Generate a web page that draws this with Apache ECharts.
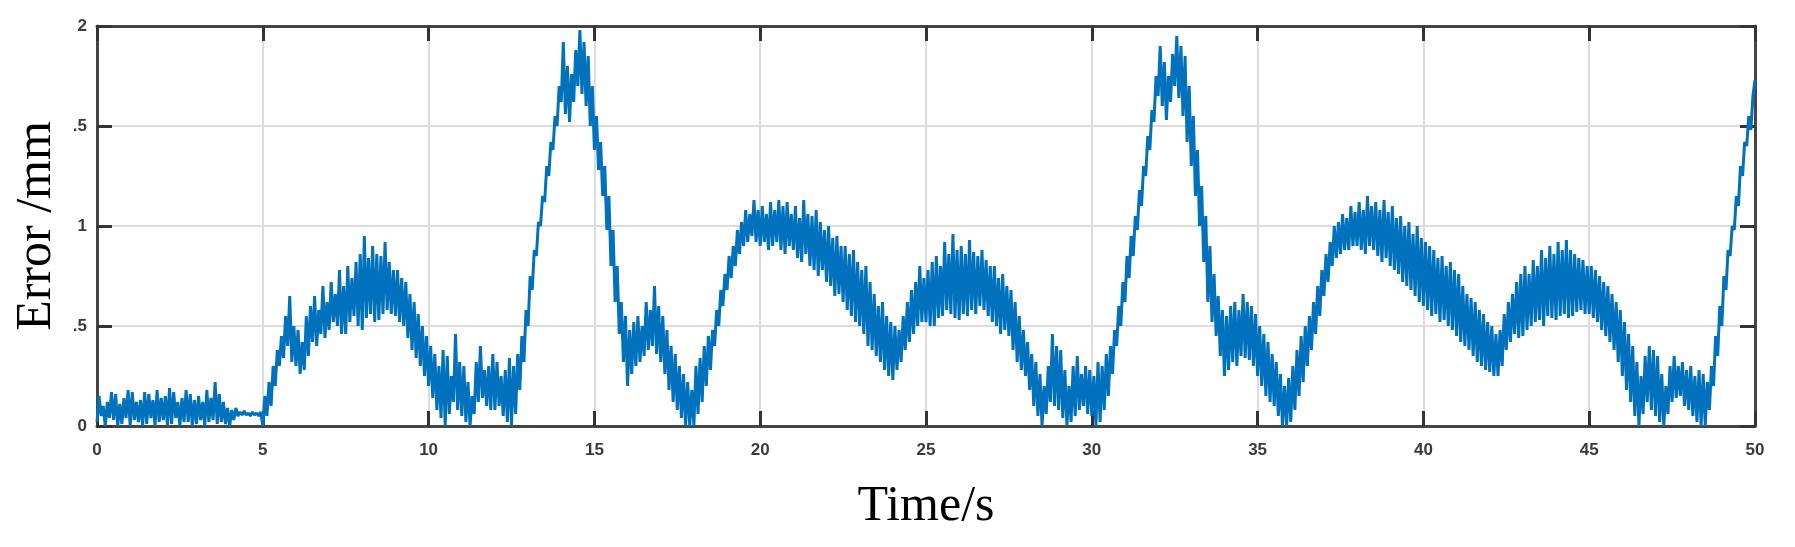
<!DOCTYPE html>
<html>
<head>
<meta charset="utf-8">
<script src="https://cdn.jsdelivr.net/npm/echarts@6/dist/echarts.min.js"></script>
<style>
html,body{margin:0;padding:0;background:#fff;}
#chart{width:1795px;height:547px;}
</style>
</head>
<body>
<div id="chart"></div>
<script>
// sample step of the envelopes (s)
var STEP = 0.125;
var xTicks = ['0','5','10','15','20','25','30','35','40','45','50'];
var yTickLabels = ['0', '.5', '1', '.5', '2'];

// upper envelope of the error band (mm), one value per 0.125 s, t = 0..50 (8 per row = 1 s)
var upperEnv = [
  0.15,0.10,0.12,0.17,0.16,0.11,0.14,0.18,
  0.17,0.12,0.13,0.17,0.16,0.13,0.18,0.14,
  0.15,0.19,0.17,0.12,0.14,0.18,0.16,0.13,
  0.15,0.12,0.18,0.14,0.22,0.16,0.12,0.09,
  0.08,0.09,0.07,0.075,0.065,0.07,0.065,0.07,
  0.15,0.22,0.30,0.38,0.45,0.55,0.65,0.50,
  0.48,0.42,0.55,0.60,0.65,0.58,0.70,0.62,
  0.72,0.66,0.78,0.70,0.80,0.74,0.82,0.86,
  0.95,0.84,0.90,0.86,0.85,0.92,0.82,0.78,
  0.78,0.74,0.72,0.66,0.62,0.56,0.50,0.45,
  0.40,0.36,0.30,0.38,0.35,0.25,0.46,0.32,
  0.30,0.22,0.15,0.32,0.40,0.28,0.30,0.36,
  0.32,0.25,0.28,0.34,0.30,0.36,0.45,0.58,
  0.75,0.88,1.02,1.15,1.30,1.42,1.55,1.70,
  1.92,1.80,1.76,1.88,1.98,1.92,1.85,1.70,
  1.55,1.42,1.30,1.15,0.98,0.80,0.62,0.55,
  0.48,0.52,0.55,0.50,0.62,0.58,0.70,0.60,
  0.55,0.48,0.40,0.36,0.30,0.26,0.22,0.18,
  0.30,0.34,0.40,0.45,0.48,0.58,0.68,0.76,
  0.85,0.90,0.98,1.02,1.08,1.06,1.13,1.08,
  1.10,1.06,1.12,1.08,1.13,1.10,1.12,1.06,
  1.10,1.04,1.13,1.06,1.05,1.08,1.02,0.98,
  1.00,0.94,0.95,0.90,0.90,0.86,0.88,0.82,
  0.78,0.80,0.72,0.66,0.60,0.62,0.55,0.52,
  0.50,0.48,0.55,0.62,0.68,0.72,0.80,0.74,
  0.78,0.82,0.85,0.80,0.92,0.86,0.96,0.88,
  0.90,0.86,0.93,0.87,0.85,0.88,0.83,0.80,
  0.80,0.74,0.76,0.70,0.68,0.62,0.55,0.48,
  0.42,0.36,0.32,0.26,0.20,0.30,0.46,0.40,
  0.38,0.28,0.20,0.30,0.35,0.26,0.30,0.28,
  0.25,0.32,0.30,0.36,0.40,0.48,0.60,0.72,
  0.85,0.95,1.05,1.18,1.30,1.45,1.58,1.75,
  1.90,1.82,1.75,1.86,1.95,1.90,1.85,1.70,
  1.55,1.38,1.20,1.05,0.90,0.76,0.65,0.58,
  0.55,0.60,0.62,0.58,0.66,0.62,0.60,0.56,
  0.50,0.46,0.42,0.36,0.32,0.26,0.20,0.24,
  0.30,0.38,0.45,0.50,0.55,0.62,0.70,0.78,
  0.86,0.92,1.00,1.02,1.06,1.04,1.10,1.07,
  1.12,1.08,1.15,1.10,1.12,1.08,1.13,1.07,
  1.10,1.04,1.05,1.00,1.02,0.96,1.00,0.94,
  0.92,0.90,0.88,0.84,0.85,0.80,0.82,0.78,
  0.76,0.70,0.66,0.64,0.62,0.58,0.56,0.52,
  0.50,0.46,0.48,0.56,0.62,0.66,0.72,0.76,
  0.80,0.76,0.83,0.80,0.88,0.84,0.90,0.86,
  0.92,0.88,0.93,0.88,0.86,0.84,0.83,0.80,
  0.80,0.78,0.75,0.72,0.70,0.66,0.62,0.58,
  0.52,0.46,0.40,0.32,0.25,0.35,0.40,0.38,
  0.35,0.26,0.20,0.30,0.35,0.30,0.32,0.28,
  0.30,0.25,0.28,0.26,0.22,0.30,0.45,0.60,
  0.75,0.88,1.00,1.15,1.30,1.42,1.55,1.65,
  1.73
];

// lower envelope of the error band (mm), one value per 0.125 s, t = 0..50 (8 per row = 1 s)
var lowerEnv = [
  0.02,0.05,0.00,0.04,0.03,0.00,0.01,0.04,
  0.00,0.03,0.02,0.00,0.01,0.04,0.00,0.02,
  0.03,0.00,0.01,0.04,0.00,0.02,0.02,0.00,
  0.01,0.03,0.00,0.02,0.03,0.01,0.02,0.01,
  0.00,0.03,0.05,0.055,0.055,0.05,0.055,0.05,
  0.00,0.05,0.10,0.20,0.30,0.34,0.40,0.32,
  0.30,0.26,0.28,0.35,0.42,0.40,0.46,0.44,
  0.48,0.52,0.50,0.46,0.46,0.52,0.55,0.50,
  0.48,0.54,0.56,0.52,0.53,0.56,0.58,0.56,
  0.55,0.52,0.50,0.44,0.38,0.34,0.30,0.25,
  0.20,0.14,0.08,0.04,0.00,0.06,0.12,0.08,
  0.05,0.02,0.00,0.06,0.12,0.14,0.10,0.08,
  0.08,0.10,0.05,0.02,0.00,0.06,0.18,0.32,
  0.50,0.68,0.85,1.00,1.12,1.25,1.38,1.50,
  1.62,1.56,1.52,1.62,1.70,1.66,1.60,1.50,
  1.38,1.28,1.15,0.98,0.80,0.62,0.46,0.32,
  0.20,0.26,0.30,0.32,0.35,0.38,0.40,0.36,
  0.32,0.26,0.18,0.12,0.08,0.04,0.00,0.00,
  0.00,0.06,0.12,0.20,0.28,0.40,0.50,0.60,
  0.68,0.74,0.80,0.86,0.90,0.92,0.95,0.92,
  0.90,0.92,0.88,0.90,0.92,0.88,0.86,0.90,
  0.88,0.84,0.82,0.86,0.80,0.78,0.75,0.78,
  0.72,0.70,0.65,0.66,0.62,0.58,0.55,0.52,
  0.50,0.46,0.40,0.38,0.35,0.32,0.28,0.25,
  0.23,0.28,0.32,0.38,0.42,0.46,0.50,0.52,
  0.52,0.50,0.50,0.54,0.55,0.58,0.56,0.54,
  0.53,0.56,0.55,0.58,0.56,0.60,0.58,0.55,
  0.52,0.50,0.46,0.48,0.45,0.38,0.32,0.28,
  0.25,0.18,0.10,0.05,0.00,0.06,0.12,0.10,
  0.08,0.04,0.00,0.02,0.05,0.08,0.10,0.06,
  0.05,0.00,0.02,0.08,0.15,0.26,0.40,0.50,
  0.62,0.74,0.85,0.98,1.10,1.25,1.38,1.52,
  1.65,1.60,1.53,1.62,1.70,1.64,1.55,1.42,
  1.30,1.15,1.00,0.82,0.62,0.52,0.45,0.35,
  0.25,0.28,0.32,0.30,0.35,0.34,0.33,0.30,
  0.25,0.20,0.15,0.12,0.10,0.05,0.00,0.00,
  0.02,0.08,0.15,0.22,0.30,0.38,0.46,0.55,
  0.65,0.72,0.80,0.84,0.86,0.88,0.88,0.90,
  0.90,0.88,0.86,0.90,0.88,0.85,0.82,0.84,
  0.80,0.78,0.76,0.72,0.70,0.68,0.65,0.62,
  0.60,0.58,0.55,0.56,0.52,0.53,0.50,0.48,
  0.45,0.42,0.40,0.38,0.35,0.32,0.30,0.28,
  0.27,0.25,0.25,0.30,0.38,0.42,0.46,0.44,
  0.45,0.48,0.50,0.52,0.53,0.50,0.55,0.54,
  0.53,0.55,0.56,0.54,0.55,0.57,0.58,0.56,
  0.56,0.54,0.52,0.48,0.45,0.42,0.38,0.32,
  0.25,0.18,0.12,0.05,0.00,0.06,0.12,0.08,
  0.05,0.02,0.00,0.06,0.12,0.14,0.15,0.10,
  0.08,0.05,0.02,0.00,0.00,0.08,0.20,0.35,
  0.50,0.68,0.85,0.98,1.10,1.25,1.40,1.48,
  1.55
];

// build the noisy trace: low sample at t, high sample half a step later
var trace = [];
for (var i = 0; i < lowerEnv.length; i++) {
  var t = i * STEP;
  if (i < lowerEnv.length - 1) {
    trace.push([t, lowerEnv[i]]);
    trace.push([t + STEP / 2, upperEnv[i]]);
  } else {
    trace.push([t, upperEnv[i]]);
  }
}

var chart = echarts.init(document.getElementById('chart'), null, {renderer: 'canvas'});
var tickFont = {color: '#3a3a3a', fontSize: 17, fontWeight: 'bold', fontFamily: 'Liberation Sans, Arial, sans-serif'};
var axisLine = {show: true, onZero: false, lineStyle: {color: '#454545', width: 3}};
var tickStyle = {show: true, inside: true, length: 15, lineStyle: {color: '#333', width: 3}};
var gridLine = {show: true, lineStyle: {color: '#dcdcdc', width: 2}};
var titleFont = {fontFamily: 'Liberation Serif, Times New Roman, serif', fontSize: 50, color: '#000'};

chart.setOption({
  animation: false,
  backgroundColor: '#fff',
  grid: {left: 97, right: 40, top: 26, bottom: 121, containLabel: false},
  xAxis: [{
    type: 'value', min: 0, max: 50, interval: 5,
    name: 'Time/s', nameLocation: 'middle', nameGap: 56,
    nameTextStyle: titleFont,
    axisLine: axisLine, axisTick: tickStyle, splitLine: gridLine,
    axisLabel: Object.assign({margin: 16, formatter: function (v) { return xTicks[Math.round(v / 5)]; }}, tickFont)
  }, {
    type: 'value', min: 0, max: 50, interval: 5, position: 'top',
    axisLine: axisLine, axisTick: tickStyle, splitLine: {show: false}, axisLabel: {show: false}
  }],
  yAxis: [{
    type: 'value', min: 0, max: 2, interval: 0.5,
    name: 'Error /mm', nameLocation: 'middle', nameGap: 33, nameRotate: 90,
    nameTextStyle: titleFont,
    axisLine: axisLine, axisTick: tickStyle, splitLine: gridLine,
    axisLabel: Object.assign({margin: 10, formatter: function (v) { return yTickLabels[Math.round(v / 0.5)]; }}, tickFont)
  }, {
    type: 'value', min: 0, max: 2, interval: 0.5, position: 'right',
    axisLine: axisLine, axisTick: tickStyle, splitLine: {show: false}, axisLabel: {show: false}
  }],
  series: [{
    type: 'line',
    data: trace,
    showSymbol: false,
    symbol: 'none',
    clip: true,
    lineStyle: {color: '#0072BD', width: 3},
    z: 3
  }]
});
</script>
</body>
</html>
